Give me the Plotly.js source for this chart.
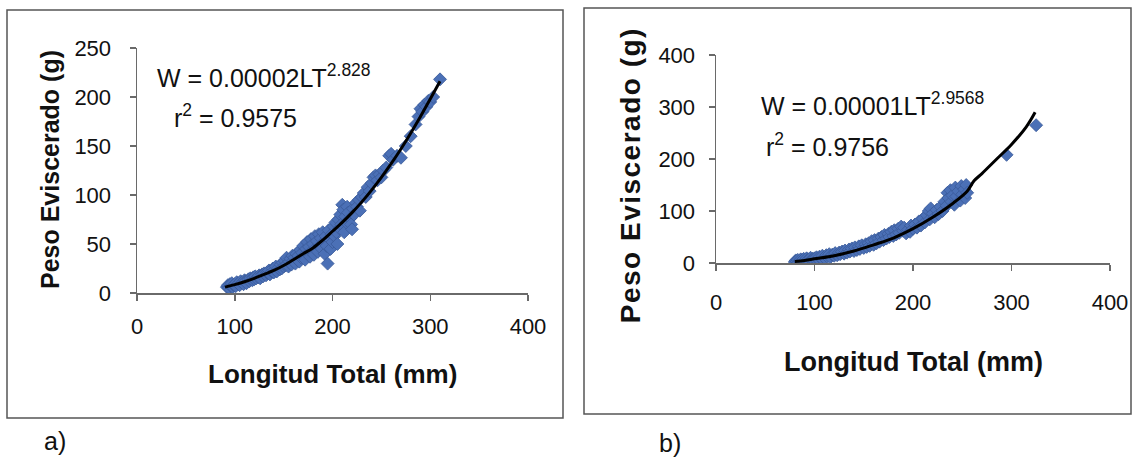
<!DOCTYPE html>
<html>
<head>
<meta charset="utf-8">
<script src="https://cdn.plot.ly/plotly-3.0.1.min.js"></script>
<style>
html,body{margin:0;padding:0;background:#fff;}
#chart{width:1135px;height:457px;}
</style>
</head>
<body>
<div id="chart"></div>
<script>
// ---------- Data ----------
// Panel a) : Longitud Total (mm) vs Peso Eviscerado (g)
const lenA = [92,93,94,95,96,97,98,99,100,101,102,
 104,105,106,108,109,110,111,112,114,115,116,118,119,120,121,122,124,125,126,128,129,130,
 132,133,134,135,136,138,139,140,141,142,143,145,146,147,148,149,150,151,152,153,154,155,156,157,158,159,160,
 161,162,163,164,165,166,167,168,169,170,171,172,173,174,175,176,177,178,179,180,181,182,183,184,185,186,187,188,189,190,191,192,193,194,195,196,197,198,199,200,
 201,202,203,204,205,206,207,208,209,210,211,212,213,214,215,216,218,219,220,221,222,224,225,227,228,230,
 232,234,236,238,240,242,244,246,248,250,252,255,258,260,262,
 266,270,275,280,285,288,290,292,294,296,298,300,303,310];
const pesoA = [6,8,5,9,7,10,6,8,9,7,11,
 10,8,12,11,9,13,12,10,14,12,15,13,16,14,17,15,16,18,15,19,17,20,
 18,21,20,23,19,22,25,21,24,27,22,26,24,29,25,31,27,33,28,36,30,27,32,35,29,38,33,
 36,30,40,34,38,32,44,36,41,48,38,34,45,52,40,47,37,55,43,50,39,58,46,53,42,60,48,56,45,62,52,40,58,48,30,64,55,45,60,52,
 68,58,72,62,50,75,66,80,70,90,85,62,78,72,88,82,76,70,65,86,80,92,88,95,84,98,
 102,98,108,104,112,118,120,115,121,118,125,128,140,142,136,
 140,138,150,160,172,180,188,185,192,190,196,195,200,218];
// fitted curve a)
const curveLenA = [90,100,110,120,130,140,150,160,170,180,190,200,210,220,230,240,250,260,270,280,290,300,310];
const curvePesoA = [6,8.5,11.5,15,19,23,28,34,40,46,54,63,72,82,93,105,118,132,147,163,180,198,216];

// Panel b)
const lenB = [80,81,82,83,84,85,86,87,88,89,90,91,92,93,94,95,96,97,98,99,100,
 102,104,105,107,108,110,112,113,115,116,118,120,121,123,125,126,128,130,131,133,135,136,138,140,141,143,145,146,148,150,
 152,153,155,156,158,160,161,163,165,166,168,170,171,173,175,176,178,180,181,183,185,186,188,190,191,193,195,197,198,200,
 202,204,206,208,210,212,214,216,217,218,220,222,224,226,228,230,232,234,235,236,238,239,240,242,243,244,246,248,249,250,252,253,254,255,
 295,325];
const pesoB = [2,5,3,6,1,4,7,3,5,8,4,6,9,5,7,3,10,6,8,5,9,
 11,7,12,9,14,10,15,12,17,11,16,14,19,15,20,17,22,18,24,20,26,22,28,23,30,25,32,27,34,29,
 36,31,38,33,42,35,44,38,47,41,50,44,54,47,56,50,60,52,63,55,66,58,70,62,68,57,64,60,72,66,
 74,68,80,72,85,78,92,100,84,105,95,88,102,94,108,100,118,110,135,125,140,118,130,112,145,128,138,120,148,132,142,125,150,135,
 208,265];
const curveLenB = [80,90,100,120,140,160,180,200,220,240,255,262,270,285,300,315,324];
const curvePesoB = [3,5,8,14,23,35,48,66,88,114,138,158,172,200,228,262,290];

// Tick values / labels
const xTicks = [0,100,200,300,400];
const yTicksA = [0,50,100,150,200,250];
const yTicksB = [0,100,200,300,400];

const texts = {
  xTitle: 'Longitud Total (mm)',
  yTitle: 'Peso Eviscerado (g)',
  eqA: 'W = 0.00002LT<sup>2.828</sup>',
  r2A: 'r<sup>2</sup> = 0.9575',
  eqB: 'W = 0.00001LT<sup>2.9568</sup>',
  r2B: 'r<sup>2</sup> = 0.9756',
  labA: 'a)', labB: 'b)'
};

// ---------- Layout helpers (pixel -> paper) ----------
const W = 1135, H = 457;
const px = x => x / W;
const py = y => 1 - y / H;
const FONT = 'Liberation Sans, Arial, sans-serif';
const axisColor = '#6a6a6a';
const markerColor = '#4b70b6';

function axisBase(extra){
  return Object.assign({
    showgrid:false, zeroline:false, showline:true, linecolor:axisColor, linewidth:1.5,
    ticks:'outside', ticklen:6, tickcolor:axisColor, tickwidth:1.5,
    tickfont:{family:FONT, size:22, color:'#111'}, fixedrange:true
  }, extra);
}

const traces = [
  {x:lenA, y:pesoA, xaxis:'x', yaxis:'y', mode:'markers', type:'scatter',
   marker:{symbol:'diamond', size:10, color:markerColor, line:{color:'#3a5a99', width:0.8}}},
  {x:curveLenA, y:curvePesoA, xaxis:'x', yaxis:'y', mode:'lines', type:'scatter',
   line:{color:'#000', width:3, shape:'spline'}},
  {x:lenB, y:pesoB, xaxis:'x2', yaxis:'y2', mode:'markers', type:'scatter',
   marker:{symbol:'diamond', size:10, color:markerColor, line:{color:'#3a5a99', width:0.8}}},
  {x:curveLenB, y:curvePesoB, xaxis:'x2', yaxis:'y2', mode:'lines', type:'scatter',
   line:{color:'#000', width:3, shape:'spline'}}
];

const layout = {
  width:W, height:H, margin:{l:0,r:0,t:0,b:0}, showlegend:false,
  paper_bgcolor:'#fff', plot_bgcolor:'rgba(0,0,0,0)',
  xaxis: axisBase({domain:[px(137), px(528)], range:[0,400], tickvals:xTicks, ticklabelstandoff:7, anchor:'y'}),
  yaxis: axisBase({domain:[py(293), py(48)], range:[0,250], tickvals:yTicksA, ticklabelstandoff:14, anchor:'x'}),
  xaxis2: axisBase({domain:[px(716), px(1110)], range:[0,400], tickvals:xTicks, ticklabelstandoff:13, anchor:'y2'}),
  yaxis2: axisBase({domain:[py(263), py(55)], range:[0,400], tickvals:yTicksB, ticklabelstandoff:9, anchor:'x2'}),
  shapes:[
    {type:'rect', xref:'paper', yref:'paper', x0:px(7), x1:px(563), y0:py(418), y1:py(10), line:{color:'#555', width:1.5}},
    {type:'rect', xref:'paper', yref:'paper', x0:px(584), x1:px(1131), y0:py(414), y1:py(8), line:{color:'#555', width:1.5}}
  ],
  annotations:[
    {text:texts.xTitle, xref:'paper', yref:'paper', x:px(332), y:py(374), xanchor:'center', yanchor:'middle', showarrow:false,
     font:{family:FONT, size:26, weight:'bold', color:'#111'}},
    {text:texts.yTitle, xref:'paper', yref:'paper', x:px(50), y:py(170), xanchor:'center', yanchor:'middle', showarrow:false, textangle:-90,
     font:{family:FONT, size:25, weight:'bold', color:'#111'}},
    {text:texts.xTitle, xref:'paper', yref:'paper', x:px(913), y:py(362), xanchor:'center', yanchor:'middle', showarrow:false,
     font:{family:FONT, size:27, weight:'bold', color:'#111'}},
    {text:texts.yTitle, xref:'paper', yref:'paper', x:px(630), y:py(175), xanchor:'center', yanchor:'middle', showarrow:false, textangle:-90,
     font:{family:FONT, size:28, weight:'bold', color:'#111'}},
    {text:texts.eqA, xref:'paper', yref:'paper', x:px(155), y:py(76), xanchor:'left', yanchor:'middle', showarrow:false,
     font:{family:FONT, size:25, color:'#111'}},
    {text:texts.r2A, xref:'paper', yref:'paper', x:px(172), y:py(116), xanchor:'left', yanchor:'middle', showarrow:false,
     font:{family:FONT, size:25, color:'#111'}},
    {text:texts.eqB, xref:'paper', yref:'paper', x:px(759), y:py(104), xanchor:'left', yanchor:'middle', showarrow:false,
     font:{family:FONT, size:25, color:'#111'}},
    {text:texts.r2B, xref:'paper', yref:'paper', x:px(764), y:py(145), xanchor:'left', yanchor:'middle', showarrow:false,
     font:{family:FONT, size:25, color:'#111'}},
    {text:texts.labA, xref:'paper', yref:'paper', x:px(42), y:py(441), xanchor:'left', yanchor:'middle', showarrow:false,
     font:{family:FONT, size:25, color:'#111'}},
    {text:texts.labB, xref:'paper', yref:'paper', x:px(657), y:py(443), xanchor:'left', yanchor:'middle', showarrow:false,
     font:{family:FONT, size:25, color:'#111'}}
  ]
};

Plotly.newPlot('chart', traces, layout, {displayModeBar:false, staticPlot:true}).then(() => {
  const ann = document.querySelectorAll('.annotation-text');
  if (ann[3]) ann[3].style.letterSpacing = '1.5px';
});
</script>
</body>
</html>
